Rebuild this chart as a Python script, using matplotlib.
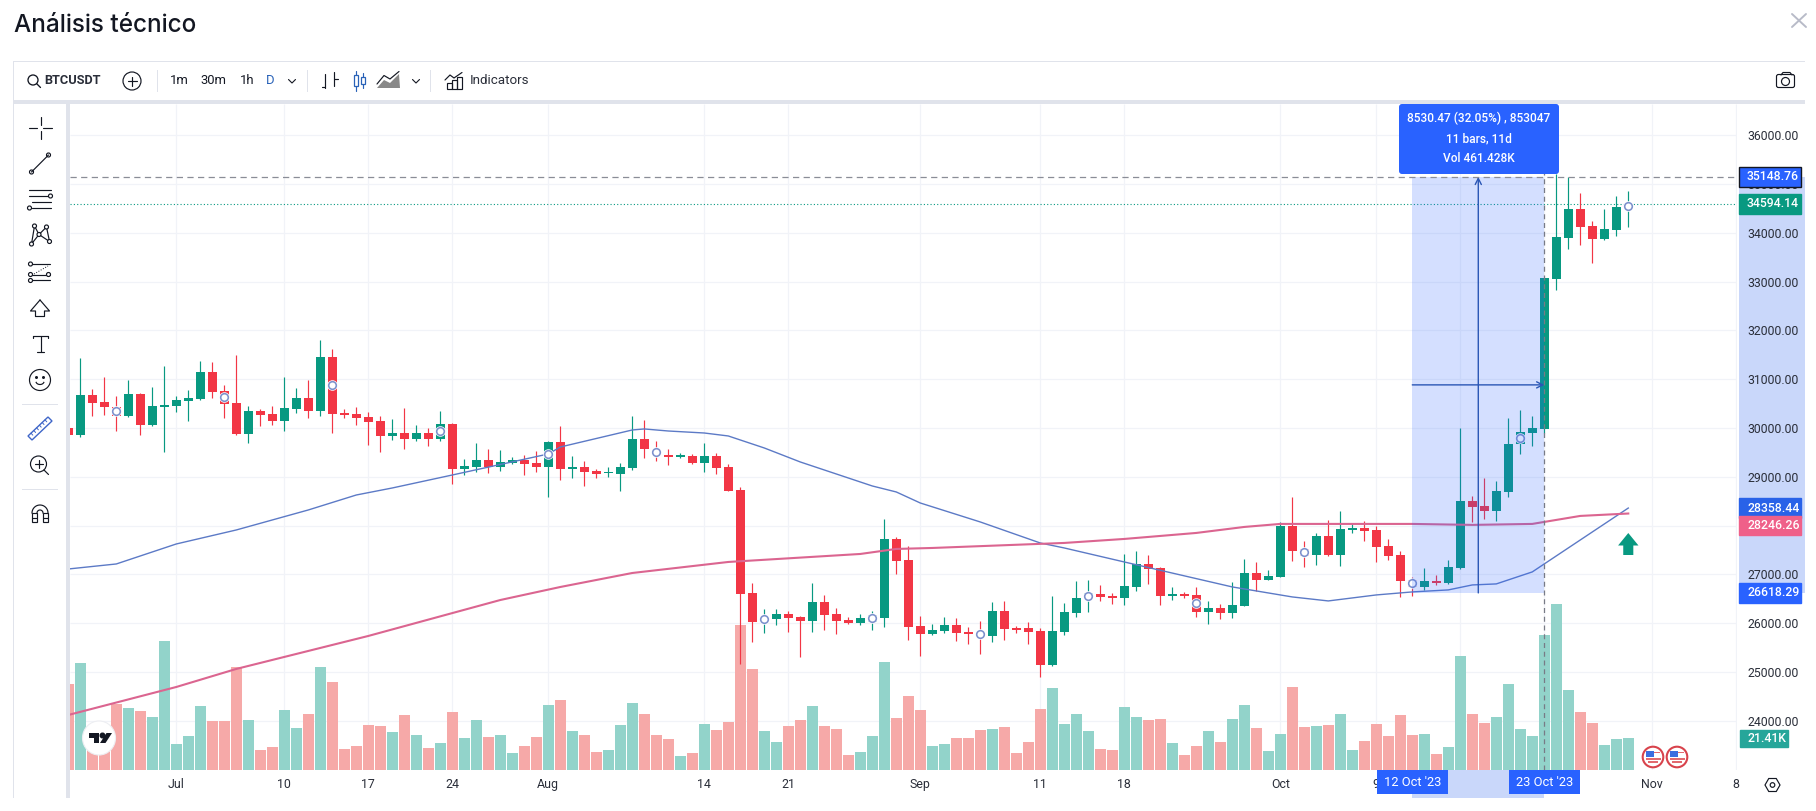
#!/usr/bin/env python3
# -*- coding: utf-8 -*-

import matplotlib
matplotlib.use("Agg")
import matplotlib.pyplot as plt
import matplotlib.transforms as mtransforms
from matplotlib.patches import Rectangle, Circle, Polygon, FancyBboxPatch, FancyArrowPatch, Ellipse
import numpy as np
import pandas as pd

plt.rcParams['font.family'] = ['Roboto', 'DejaVu Sans']

# daily candles, 22 Jun 2023 to 30 Oct 2023
dates = pd.date_range("2023-06-22", "2023-10-30")
opens = [30001, 29858, 30677, 30534, 30425, 30247, 30698, 30063, 30431, 30452, 30554, 30595, 31149, 30759, 30513, 29878, 30349, 30288, 30145, 30390, 30616, 30349, 31456, 30308, 30288, 30226, 30145, 29837, 29899, 29776, 29899, 29776, 30083, 29161, 29202, 29345, 29202, 29284, 29345, 29284, 29202,
         29713, 29160, 29201, 29119, 29078, 29058, 29181, 29775, 29550, 29447, 29413, 29427, 29283, 29427, 29201, 28730, 26620, 26025, 26087, 26189, 26128, 26046, 26435, 26189, 26066, 26005, 26032, 26107, 27726, 27296, 25943, 25779, 25841, 25964, 25820, 25827, 25738, 26251, 25896, 25902, 25841,
         25144, 25820, 26209, 26489, 26598, 26558, 26517, 26742, 27213, 27131, 26564, 26598, 26578, 26230, 26312, 26209, 26353, 27029, 26885, 26947, 27992, 27527, 27398, 27787, 27398, 27910, 27951, 27910, 27582, 27398, 26885, 26742, 26865, 26824, 27131, 28504, 28402, 28299, 28689, 29667, 29900, 29981,
         33063, 33897, 34491, 34142, 33876, 34060, 34484]
highs = [30010, 31435, 30800, 31046, 30657, 30978, 30711, 30841, 31271, 30657, 30780, 31374, 31353, 30882, 31497, 30452, 30390, 30452, 31046, 30821, 30985, 31804, 31620, 30390, 30431, 30329, 30247, 30186, 30411, 30063, 30001, 30349, 30104, 29366, 29694, 29571, 29550, 29407, 29448, 29530, 29735,
         30041, 29427, 29324, 29160, 29201, 29283, 30246, 30164, 29734, 29570, 29488, 29468, 29693, 29488, 29263, 28791, 26824, 26292, 26292, 26251, 26148, 26824, 26578, 26312, 26128, 26189, 26257, 28136, 27767, 27582, 26148, 25984, 26128, 26107, 25923, 26046, 26435, 26456, 25943, 26025, 25902,
         26558, 26414, 26865, 26885, 26783, 26619, 27418, 27480, 27398, 27152, 26742, 26640, 26742, 26455, 26394, 26844, 27316, 27254, 27090, 28074, 28586, 27684, 27848, 28115, 28299, 28033, 28094, 27992, 27726, 27480, 26954, 27131, 26988, 27288, 30000, 28607, 28982, 28914, 30207, 30370, 30247, 33075,
         35198, 35140, 34819, 34245, 34491, 34757, 34860]
lows = [29858, 29810, 30247, 30267, 29940, 30226, 29858, 30049, 29509, 30329, 30145, 30575, 30616, 30206, 29858, 29694, 30042, 30063, 29940, 30308, 30206, 30247, 29899, 30206, 30063, 29653, 29509, 29755, 29571, 29735, 29632, 29735, 28854, 29038, 29100, 29079, 29120, 29263, 29038, 29100, 28587,
        28935, 28976, 28812, 28976, 28996, 28709, 29140, 29386, 29324, 29242, 29386, 29263, 29099, 29058, 28709, 25165, 25615, 25800, 25964, 25820, 25308, 25820, 25861, 25779, 25984, 25964, 25861, 25923, 27009, 25656, 25329, 25759, 25800, 25636, 25574, 25370, 25615, 25656, 25800, 25574, 24898,
        25124, 25758, 26127, 26230, 26455, 26394, 26373, 26660, 26803, 26373, 26476, 26517, 26127, 25984, 26086, 26107, 26353, 26660, 26885, 26947, 27275, 27152, 27193, 27377, 27172, 27848, 27684, 27254, 27295, 26537, 26558, 26680, 26783, 26803, 27104, 28074, 28135, 28094, 28593, 29469, 29633, 29900,
        32831, 33678, 33753, 33384, 33855, 33937, 34122]
closes = [29858, 30677, 30520, 30431, 30254, 30698, 30063, 30452, 30472, 30575, 30616, 31149, 30739, 30500, 29878, 30349, 30267, 30145, 30411, 30616, 30349, 31456, 30288, 30267, 30206, 30124, 29837, 29899, 29776, 29899, 29776, 30083, 29161, 29222, 29345, 29202, 29304, 29345, 29263, 29202, 29714,
          29160, 29201, 29099, 29058, 29099, 29201, 29775, 29570, 29447, 29406, 29440, 29283, 29427, 29181, 28709, 26599, 26025, 26134, 26189, 26107, 26046, 26435, 26169, 26046, 26005, 26107, 26169, 27726, 27275, 25923, 25779, 25861, 25964, 25800, 25779, 25711, 26251, 25882, 25868, 25820, 25144,
          25841, 26230, 26517, 26626, 26537, 26517, 26762, 27213, 27111, 26558, 26592, 26558, 26230, 26312, 26209, 26373, 27029, 26885, 26967, 27992, 27480, 27377, 27787, 27398, 27930, 27958, 27889, 27562, 27377, 26865, 26749, 26865, 26824, 27152, 28504, 28381, 28299, 28709, 29674, 29913, 30002, 33075,
          33917, 34491, 34122, 33876, 34081, 34532, 34600]
volumes = [58.1, 72.3, 24.8, 18.0, 44.6, 41.9, 39.9, 35.8, 87.2, 17.6, 23.0, 43.3, 33.1, 33.1, 69.6, 33.8, 13.5, 15.5, 40.6, 28.4, 37.9, 69.6, 59.5, 14.2, 16.2, 30.4, 29.7, 25.7, 37.2, 23.7, 14.9, 18.2, 39.2, 21.6, 33.8, 22.3, 23.7, 11.5, 16.2, 22.3, 43.9,
           47.3, 26.4, 23.7, 12.2, 13.5, 30.4, 45.3, 37.9, 23.7, 21.0, 9.5, 11.5, 31.1, 27.0, 32.4, 98.0, 68.3, 26.4, 18.9, 29.7, 33.8, 43.3, 29.7, 27.7, 10.1, 12.2, 23.0, 73.0, 35.1, 50.0, 40.6, 16.2, 17.6, 21.6, 21.6, 27.0, 27.7, 29.1, 11.5, 18.9, 41.2,
           55.4, 31.1, 37.9, 26.4, 14.2, 13.5, 42.6, 35.8, 33.8, 34.5, 18.2, 10.1, 16.2, 26.4, 18.9, 34.5, 43.9, 28.4, 12.8, 24.3, 56.1, 29.1, 29.7, 30.4, 37.9, 13.5, 19.6, 31.1, 23.0, 37.2, 23.7, 24.3, 10.8, 15.5, 77.1, 37.9, 31.8, 35.8, 58.1, 27.7, 23.0, 91.2,
           112.2, 54.1, 39.2, 31.8, 16.9, 21.0, 21.41]

# moving averages, day numbers counted from 23 Jun
blue_days = [-1, 3, 8, 13, 16, 19, 23, 26, 31, 39, 40, 46, 47, 49, 52, 54, 57, 60, 66, 68, 70, 75, 80, 82, 87, 96, 98, 101, 104, 108, 111, 114, 116, 118, 121, 122, 129]
blue_ma = [27109, 27212, 27622, 27909, 28114, 28319, 28626, 28770, 29036, 29467, 29610, 29959, 29980, 29938, 29897, 29836, 29590, 29303, 28811, 28688, 28462, 28073, 27642, 27540, 27253, 26741, 26659, 26536, 26454, 26577, 26639, 26680, 26782, 26803, 27049, 27213, 28358.44]
pink_days = [-1, 8, 13, 24, 35, 40, 46, 54, 65, 68, 71, 82, 87, 93, 97, 100, 111, 116, 121, 122, 125, 129]
pink_ma = [24116, 24690, 25060, 25736, 26473, 26740, 27027, 27253, 27417, 27520, 27540, 27643, 27725, 27848, 27971, 28033, 28033, 28013, 28033, 28074, 28197, 28246.26]

# event circles on the candles
marker_dates = ["2023-06-26", "2023-07-05", "2023-07-14", "2023-07-23", "2023-08-01", "2023-08-10", "2023-08-19", "2023-08-28",
                "2023-09-06", "2023-09-15", "2023-09-24", "2023-10-03", "2023-10-12", "2023-10-21", "2023-10-30"]

price_ticks = np.arange(24000, 36001, 1000)
tick_dates = ["2023-07-01", "2023-07-10", "2023-07-17", "2023-07-24", "2023-08-01", "2023-08-14", "2023-08-21", "2023-09-01", "2023-09-11", "2023-09-18",
              "2023-10-01", "2023-10-09", "2023-10-16", "2023-11-01", "2023-11-08"]
tick_labels = ["Jul", "10", "17", "24", "Aug", "14", "21", "Sep", "11", "18", "Oct", "9", "16", "Nov", "8"]

measure_low = 26618.29
measure_high = 35148.76
last_price = 34594.14
measure_text = ["8530.47 (32.05%) , 853047", "11 bars, 11d", "Vol 461.428K"]
start_day = pd.Timestamp("2023-10-12")
end_day = pd.Timestamp("2023-10-23")

W, H = 1816, 811
GREEN = "#089981"
RED = "#F23645"
BLUE = "#2962FF"
DARK = "#131722"
GRID = "#F1F3F8"
BAND = "#C9D7FA"


def day_no(d):
    return (pd.Timestamp(d) - pd.Timestamp("2023-06-23")).days


days = np.array([day_no(d) for d in dates])
opens, highs, lows, closes = map(np.array, (opens, highs, lows, closes))
volumes = np.array(volumes)
up = closes >= opens

fig = plt.figure(figsize=(W / 100, H / 100), dpi=100, facecolor="white")
rect = [70 / W, 1 - 770 / H, (1737 - 70) / W, (770 - 104) / H]
ax_vol = fig.add_axes(rect)
ax = fig.add_axes(rect, sharex=ax_vol)
ax_vol.set_zorder(1)
ax.set_zorder(2)
ax.patch.set_visible(False)
ax.set_xlim(-0.858, 138.06)
ax.set_ylim(22988, 36642)
ax_vol.set_ylim(0, 449.6)

# grid sits under the volume bars
ax_vol.hlines(price_ticks, 0, 1, transform=ax.get_yaxis_transform(), color=GRID, lw=0.9, zorder=0)
ax_vol.vlines([day_no(d) for d in tick_dates] + [day_no(end_day)], 0, 1, transform=ax_vol.get_xaxis_transform(), color=GRID, lw=0.9, zorder=0)
ax_vol.bar(days, volumes, width=0.9, color=np.where(up, "#92D3CA", "#F6A9A8"), linewidth=0, zorder=1)

# candles
candle_colors = np.where(up, GREEN, RED)
ax.vlines(days, lows, highs, color=candle_colors, lw=0.85, zorder=2)
ax.bar(days, np.abs(closes - opens), bottom=np.minimum(opens, closes), width=0.75, color=candle_colors, linewidth=0, zorder=2.1)
ax.plot(blue_days, blue_ma, color="#5C7AC6", lw=1.0, zorder=3)
ax.plot(pink_days, pink_ma, color="#DB6590", lw=1.5, zorder=3)

# event circles
m_idx = [day_no(d) + 1 for d in marker_dates]
m_x = days[m_idx]
m_y = (opens[m_idx] + closes[m_idx]) / 2
ax.scatter(m_x, m_y, s=58, color="white", linewidths=0, zorder=3.5)
ax.scatter(m_x, m_y, s=30, facecolor="white", edgecolor="#7C90CC", linewidths=1.15, zorder=3.6)

# measure tool
x0, x1 = day_no(start_day), day_no(end_day)
xm = (x0 + x1) / 2
ym = (measure_low + measure_high) / 2
ax.add_patch(Rectangle((x0, measure_low), x1 - x0, measure_high - measure_low, color=BLUE, alpha=0.2, lw=0, zorder=4))
ax.add_patch(FancyArrowPatch((xm, measure_low), (xm, measure_high), arrowstyle="->", color="#2A56B5", lw=1.0,
                             shrinkA=0, shrinkB=0, mutation_scale=11, zorder=5))
ax.add_patch(FancyArrowPatch((x0, ym), (x1, ym), arrowstyle="->", color="#2A56B5", lw=1.0,
                             shrinkA=0, shrinkB=0, mutation_scale=11, zorder=5))
ax.axvline(x1, color="#787B86", lw=0.9, ls=(0, (4, 3)), zorder=5, ymin=0)
ax.axhline(measure_high, color="#8A8D97", lw=0.9, ls=(0, (5, 3.5)), zorder=5)
ax.axhline(last_price, color=GREEN, lw=0.8, ls=(0, (1, 2)), zorder=1.5)

# axes and ticks
for a in (ax, ax_vol):
    for s in a.spines.values():
        s.set_visible(False)
ax_vol.tick_params(left=False, bottom=False, labelleft=False, labelbottom=False)
ax.yaxis.tick_right()
ax.set_yticks(price_ticks, ["%.2f" % p for p in price_ticks])
ax.set_xticks([day_no(d) for d in tick_dates], tick_labels)
ax.tick_params(axis="y", length=0, pad=7.3, labelsize=8.8, labelcolor="#2A2E39")
ax.tick_params(axis="x", length=0, pad=5.5, labelsize=8.9, labelcolor="#2A2E39")
ax.axhspan(measure_low, measure_high, xmin=1.001, xmax=1.0408, color=BAND, lw=0, clip_on=False, zorder=0.5)

# overlay in pixel units for the page furniture
ui = fig.add_axes([0, 0, 1, 1], zorder=3)
ui.set_xlim(0, W)
ui.set_ylim(H, 0)
ui.axis("off")
ui.patch.set_visible(False)

BORDER = "#E0E3EB"


def band(x, y, w, h, c=BORDER, z=1):
    ui.add_patch(Rectangle((x, y), w, h, color=c, lw=0, zorder=z))


def stroke(xs, ys, c=DARK, lw=0.85, **kw):
    ui.plot(xs, ys, color=c, lw=lw, solid_capstyle="round", **kw)


def ring(x, y, r, c=DARK, lw=0.85, fc="none"):
    ui.add_patch(Circle((x, y), r, fc=fc, ec=c, lw=lw, zorder=6))


def label(x, y, s, size=8.6, c=DARK, ha="center", **kw):
    ui.text(x, y, s, fontsize=size, color=c, ha=ha, va="center", zorder=8, **kw)


# title and close button
label(14, 26, "Análisis técnico", size=17.5, ha="left", family=["Inter", "Roboto"], fontweight=500)
stroke([1792, 1806], [14, 27], c="#B8BBC8", lw=1.4)
stroke([1792, 1806], [27, 14], c="#B8BBC8", lw=1.4)

# top toolbar frame
band(13, 61, 1792, 1.2)
band(13, 100, 1792, 4)
band(13, 61, 1.2, 737)
band(66, 104, 4, 694)

label(44.5, 81, "BTCUSDT", size=9.2, ha="left", fontweight="bold", c="#2A2E39")
ring(33, 80, 5, lw=0.95)
stroke([36.8, 40.5], [83.8, 87.5], lw=0.95)
ring(132, 81, 9)
stroke([127.5, 136.5], [81, 81])
stroke([132, 132], [76.5, 85.5])
for sx in (157, 306.5, 430):
    band(sx, 70, 1, 22)
for tx, ts, tc in [(179, "1m", DARK), (213, "30m", DARK), (247, "1h", DARK), (270, "D", "#2962B8")]:
    label(tx, 81, ts, size=9.4, c=tc)
for cx in (292, 416):
    stroke([cx - 3.5, cx, cx + 3.5], [79.5, 83, 79.5], lw=0.8)
# bars icon
stroke([325, 325], [74, 88])
stroke([321.5, 325], [87, 87])
stroke([334, 334], [72, 86])
stroke([334, 337.5], [79, 79])
# candle icon
ui.add_patch(Rectangle((353.5, 75), 4, 11, fc="white", ec="#2962B8", lw=0.9, zorder=6))
stroke([355.5, 355.5], [71, 90.5], c="#2962B8")
ui.add_patch(Rectangle((361, 77), 3.5, 7, fc="white", ec="#2962B8", lw=0.9, zorder=6))
stroke([362.7, 362.7], [73, 88], c="#2962B8")
# area icon
ui.add_patch(Polygon([(377, 88), (384, 80), (390, 83), (399, 74), (400, 88)], fc="#888", ec="none", zorder=6))
stroke([377, 384, 390, 399], [84, 75.5, 79, 71.5])
# indicators icon
stroke([445, 450, 454, 462], [80, 75, 78, 72.5])
for bx, bh in [(447, 6), (452, 9), (457, 12)]:
    ui.add_patch(Rectangle((bx, 89 - bh), 5, bh, fc="none", ec=DARK, lw=0.85, zorder=6))
label(470, 81, "Indicators", size=9.6, ha="left", c="#2A2E39")
# camera
ui.add_patch(FancyBboxPatch((1777, 75), 17, 12, boxstyle="round,pad=0.5,rounding_size=2", fc="none", ec=DARK, lw=0.85, zorder=6))
stroke([1781, 1783, 1790, 1792], [75, 72.5, 72.5, 75])
ring(1785.5, 81.5, 4)

# left drawing tools
stroke([29, 37], [128, 128])
stroke([43, 52], [128, 128])
stroke([40.5, 40.5], [117, 125])
stroke([40.5, 40.5], [131, 139])
stroke([31.5, 48.5], [172, 155])
ring(31.5, 172, 2)
ring(48.5, 155, 2)
for fy, fa, fb in [(190, 29, 51), (196, 29, 48), (202, 32, 51), (208, 32, 51)]:
    stroke([fa, fb], [fy, fy])
ring(50.5, 196, 2, fc="white")
ring(29.5, 208, 2, fc="white")
net = np.array([(31.5, 244), (34.5, 226), (39, 234.5), (46.5, 227), (49.5, 241.5)])
stroke(net[[0, 1, 2, 3, 4, 2, 0]][:, 0], net[[0, 1, 2, 3, 4, 2, 0]][:, 1])
for nx, ny in net:
    ring(nx, ny, 2, fc="white")
for fy, fa, fb in [(264, 32, 50), (275, 32, 50), (280, 32, 50)]:
    stroke([fa, fb], [fy, fy])
stroke([34, 48], [274, 266], ls=":", lw=0.7)
for fx, fy in [(30.5, 264), (30.5, 274.5), (30.5, 280.5), (48.5, 274.5)]:
    ring(fx, fy, 2, fc="white")
stroke([40, 49.5, 44.5, 44.5, 35.5, 35.5, 30.5, 40], [300, 311, 311, 316.5, 316.5, 311, 311, 300])
stroke([33, 48], [335.5, 335.5])
stroke([33, 33], [335.5, 338])
stroke([48, 48], [335.5, 338])
stroke([40.5, 40.5], [335.5, 352])
stroke([37, 44], [352, 352])
ring(40, 380, 10.5)
ui.add_patch(Circle((36.5, 377.5), 0.8, color=DARK, zorder=6))
ui.add_patch(Circle((43.5, 377.5), 0.8, color=DARK, zorder=6))
ui.plot(40 + 4 * np.cos(np.linspace(0.3, 2.85, 12)), 381.5 + 3 * np.sin(np.linspace(0.3, 2.85, 12)), color=DARK, lw=0.85)
band(22, 404, 36, 0.9)
ui.add_patch(Polygon([(28, 436), (48, 417), (52, 421), (32, 440)], fc="none", ec="#3F66C8", lw=1.0, zorder=6))
for t in np.linspace(0.15, 0.85, 6):
    stroke([28 + 20 * t, 29.8 + 20 * t], [436 - 19 * t, 438 - 19 * t], c="#3F66C8", lw=0.7)
ring(38.5, 464, 8)
stroke([34.5, 42.5], [464, 464])
stroke([38.5, 38.5], [460, 468])
stroke([44, 48.5], [470, 474.5])
band(22, 489, 36, 0.9)
ui.plot(40 + 8 * np.cos(np.linspace(np.pi, 2 * np.pi, 20)), 513 + 8 * np.sin(np.linspace(np.pi, 2 * np.pi, 20)), color=DARK, lw=0.85)
ui.plot(40 + 3 * np.cos(np.linspace(np.pi, 2 * np.pi, 20)), 513 + 3 * np.sin(np.linspace(np.pi, 2 * np.pi, 20)), color=DARK, lw=0.85)
for mx in (32, 43):
    ui.add_patch(Rectangle((mx, 513), 5, 9, fc="none", ec=DARK, lw=0.85, zorder=6))
    stroke([mx, mx + 5], [518, 518])

# tooltip of the measure tool
ui.add_patch(FancyBboxPatch((1401, 106), 156, 66, boxstyle="round,pad=2,rounding_size=3", fc=BLUE, ec="none", zorder=7))
for ty, line in zip((118.5, 139, 159), measure_text):
    label(1479, ty, line, size=8.6, c="white", fontweight=500)

# price tags, positions follow the price scale
to_y = mtransforms.blended_transform_factory(ui.transData, ax.transData)
TAG_H = 400


def tag(price, text, colour, width=62, edge=None):
    ui.add_patch(Rectangle((1739, price - TAG_H / 2), width, TAG_H, transform=to_y, fc=colour, ec=edge or colour, lw=1.0, zorder=7))
    ui.text(1747, price, text, transform=to_y, fontsize=8.8, color="white", ha="left", va="center", zorder=8, fontweight=500)


tag(measure_high, "%.2f" % measure_high, BLUE, edge=DARK)
tag(last_price, "%.2f" % last_price, GREEN)
tag(blue_ma[-1], "%.2f" % blue_ma[-1], "#2962E8")
# this tag is pushed down to stay clear of the one above it
tag(pink_ma[-1] - 249, "%.2f" % pink_ma[-1], "#EF6089")
tag(measure_low, "%.2f" % measure_low, BLUE)

vol_y = mtransforms.blended_transform_factory(ui.transData, ax_vol.transData)
ui.add_patch(Rectangle((1740, volumes[-1] - 5.9), 48, 11.8, transform=vol_y, fc="#26A69A", ec="#26A69A", lw=1, zorder=7))
ui.text(1747, volumes[-1], "%.2fK" % volumes[-1], transform=vol_y, fontsize=8.8, color="white", ha="left", va="center", zorder=8, fontweight=500)

# time scale selection
time_x = mtransforms.blended_transform_factory(ax.transData, ui.transData)
ui.add_patch(Rectangle((x0, 770), x1 - x0, 28, transform=time_x, color=BAND, lw=0, zorder=2))
for d, s in ((x0, "12 Oct '23"), (x1, "23 Oct '23")):
    ui.add_patch(Rectangle((d - 2.95, 770), 5.9, 24, transform=time_x, color=BLUE, lw=0, zorder=7))
    ui.text(d, 783, s, transform=time_x, fontsize=9.3, color="white", ha="center", va="center", zorder=8)

# green arrow next to the last bar
arrow_x = day_no("2023-10-30")
ui.add_patch(Polygon(np.column_stack([[arrow_x - 0.42, arrow_x + 0.42, arrow_x + 0.42, arrow_x + 0.85, arrow_x, arrow_x - 0.85, arrow_x - 0.42],
                                      [555, 555, 545.5, 545.5, 533, 545.5, 545.5]]), transform=time_x, color=GREEN, lw=0, zorder=6))

# economic event flags
for fx in (1653, 1677):
    ui.add_patch(Circle((fx, 757), 10.3, fc="white", ec="#D8434C", lw=1.5, zorder=6))
    ui.add_patch(Rectangle((fx - 7, 751), 8, 5.5, color="#3B6EE0", lw=0, zorder=6.1))
    ui.add_patch(Rectangle((fx + 1, 752), 6, 1.4, color="#E26A6F", lw=0, zorder=6.1))
    ui.add_patch(Rectangle((fx - 7.5, 757.5), 15, 2, color="#E26A6F", lw=0, zorder=6.1))
    ui.add_patch(Rectangle((fx - 5, 761), 10, 2, color="#E26A6F", lw=0, zorder=6.1))

# settings hexagon on the time scale
hx, hy = 1772.5, 785
ang = np.deg2rad(np.arange(0, 360, 60))
ui.add_patch(Polygon(np.column_stack([hx + 7.5 * np.cos(ang), hy + 7.5 * np.sin(ang)]), fc="none", ec=DARK, lw=0.85, zorder=6))
ring(hx, hy, 2.3)

# chart logo
ui.add_patch(Ellipse((99, 738), 33, 34, fc="white", ec="#EDEEF2", lw=0.8, zorder=6))
ui.add_patch(Polygon([(88.5, 733), (99, 733), (99, 743), (94, 743), (94, 737.5), (88.5, 737.5)], color=DARK, lw=0, zorder=6.1))
ui.add_patch(Circle((102.5, 735.5), 2.3, color=DARK, zorder=6.1))
ui.add_patch(Polygon([(106.5, 733), (112, 733), (105.5, 743), (100, 743)], color=DARK, lw=0, zorder=6.1))

fig.savefig("out.png", dpi=100, facecolor="white")
